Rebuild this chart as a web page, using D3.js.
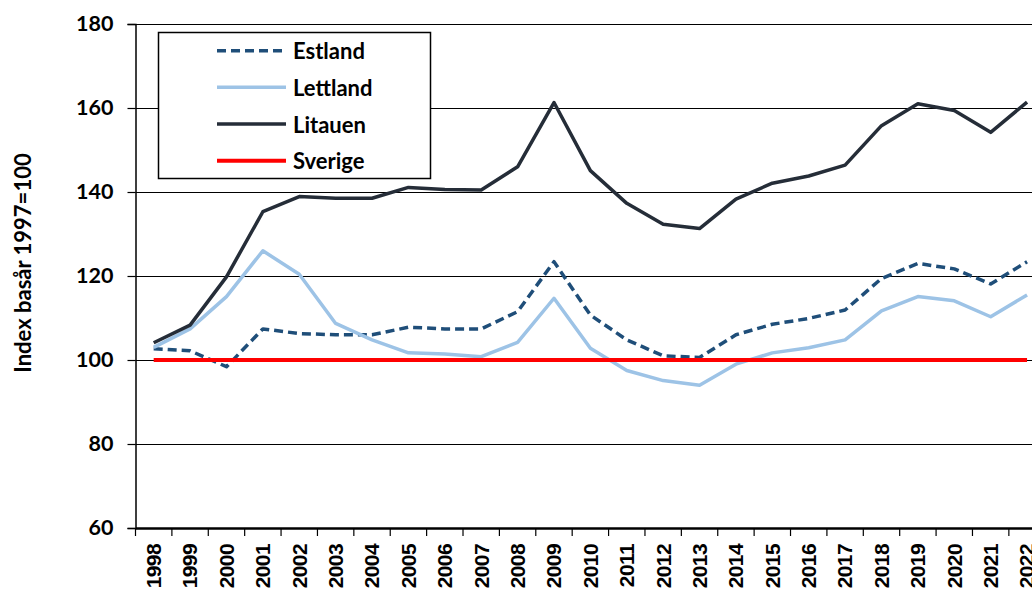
<!DOCTYPE html>
<html><head><meta charset="utf-8">
<script src="https://cdn.jsdelivr.net/npm/d3@7"></script>
<style>body{margin:0;background:#fff}svg{display:block}</style>
</head><body>
<svg id="c" width="1032" height="592"></svg>
<script>
const years = ["1998","1999","2000","2001","2002","2003","2004","2005","2006","2007","2008","2009","2010","2011","2012","2013","2014","2015","2016","2017","2018","2019","2020","2021","2022"];
const estland = [102.7,102.2,98.4,107.4,106.3,106.0,106.0,107.8,107.4,107.4,111.5,123.4,110.7,104.8,101.0,100.6,106.0,108.5,109.9,111.9,119.4,123.0,121.7,118.1,123.4];
const lettland = [103.0,107.4,115.1,126.0,120.4,108.7,104.8,101.7,101.4,100.8,104.2,114.7,102.8,97.5,95.1,94.0,99.0,101.7,102.9,104.8,111.7,115.1,114.1,110.3,115.5];
const litauen = [104.1,108.3,119.8,135.3,138.9,138.5,138.5,141.1,140.6,140.5,146.0,161.3,145.1,137.3,132.3,131.3,138.3,142.1,143.8,146.4,155.8,161.0,159.4,154.2,161.4];
const sverige = [100,100,100,100,100,100,100,100,100,100,100,100,100,100,100,100,100,100,100,100,100,100,100,100,100];
const yTicks = [60,80,100,120,140,160,180];
const seriesNames = ["Estland","Lettland","Litauen","Sverige"];
const yTitle = "Index basår 1997=100";

const series = [
  {name:seriesNames[0], values:estland, color:"#1f4e79", dash:"9,5", w:3.5},
  {name:seriesNames[1], values:lettland, color:"#9dc3e6", dash:null, w:3.5},
  {name:seriesNames[2], values:litauen, color:"#252d38", dash:null, w:3.5},
  {name:seriesNames[3], values:sverige, color:"#ff0000", dash:null, w:4}
];

const svg = d3.select("#c");
const L = 135.5, T = 24, B = 528, R = 135.5 + 36.39*25;
const x = d3.scaleBand().domain(years).range([L, R]);
const y = d3.scaleLinear().domain([60,180]).range([B, T]);
const lab = "Lato, 'Open Sans', sans-serif";

// gridlines
svg.append("g").selectAll("line").data(yTicks.filter(d=>d>60)).join("line")
  .attr("x1", L).attr("x2", 1032).attr("y1", d=>Math.round(y(d))+0.5).attr("y2", d=>Math.round(y(d))+0.5)
  .attr("stroke","#000").attr("stroke-width",1.2);

// y axis
const ya = svg.append("g").attr("transform",`translate(${L},0)`)
  .call(d3.axisLeft(y).tickValues(yTicks).tickSize(8).tickPadding(14));
ya.select(".domain").attr("stroke","#000").attr("stroke-width",1.5);
ya.selectAll(".tick line").attr("stroke","#000").attr("stroke-width",1.2);
ya.selectAll(".tick text").attr("font-family",lab).attr("font-weight",700).attr("font-size","21.5px").attr("fill","#000");

// x axis
const xa = svg.append("g").attr("transform",`translate(0,${B})`)
  .call(d3.axisBottom(x).tickSize(0).tickSizeOuter(0));
xa.select(".domain").attr("stroke","#000").attr("stroke-width",2.5);
xa.selectAll(".tick text")
  .attr("font-family","'Liberation Sans', Arial, sans-serif").attr("font-weight",700).attr("font-size","21px")
  .attr("letter-spacing","-0.6px").attr("fill","#000")
  .attr("transform","rotate(-90)").attr("text-anchor","end").attr("dy","0.35em")
  .attr("x",-16).attr("y",0);
// boundary ticks
svg.append("g").selectAll("line").data(years.map(d=>x(d)).concat([R])).join("line")
  .attr("x1",d=>d).attr("x2",d=>d).attr("y1",B).attr("y2",B+8).attr("stroke","#000").attr("stroke-width",1.2);

// lines
const line = d3.line().x((d,i)=>x(years[i])+x.bandwidth()/2).y(d=>y(d));
svg.append("g").selectAll("path").data(series).join("path")
  .attr("d",d=>line(d.values)).attr("fill","none").attr("stroke",d=>d.color)
  .attr("stroke-width",d=>d.w).attr("stroke-dasharray",d=>d.dash).attr("stroke-linejoin","round");

// y title
svg.append("text").attr("transform","translate(22,263) rotate(-90)")
  .attr("text-anchor","middle").attr("dominant-baseline","central")
  .attr("font-family",lab).attr("font-weight",700).attr("font-size","22px").text(yTitle);

// legend
const lg = svg.append("g");
lg.append("rect").attr("x",158.5).attr("y",32.5).attr("width",272).attr("height",146)
  .attr("fill","#fff").attr("stroke","#000").attr("stroke-width",1.5);
const rowY = d3.scalePoint().domain(seriesNames).range([50.7,160.7]);
const items = lg.selectAll("g.it").data(series).join("g").attr("class","it")
  .attr("transform",d=>`translate(0,${rowY(d.name)})`);
items.append("line").attr("x1",217).attr("x2",286).attr("y1",0).attr("y2",0)
  .attr("stroke",d=>d.color).attr("stroke-width",d=>d.w).attr("stroke-dasharray",d=>d.dash);
items.append("text").attr("x",293).attr("y",0).attr("dominant-baseline","central")
  .attr("font-family",lab).attr("font-weight",700).attr("font-size","22px").text(d=>d.name);
</script>
</body></html>
